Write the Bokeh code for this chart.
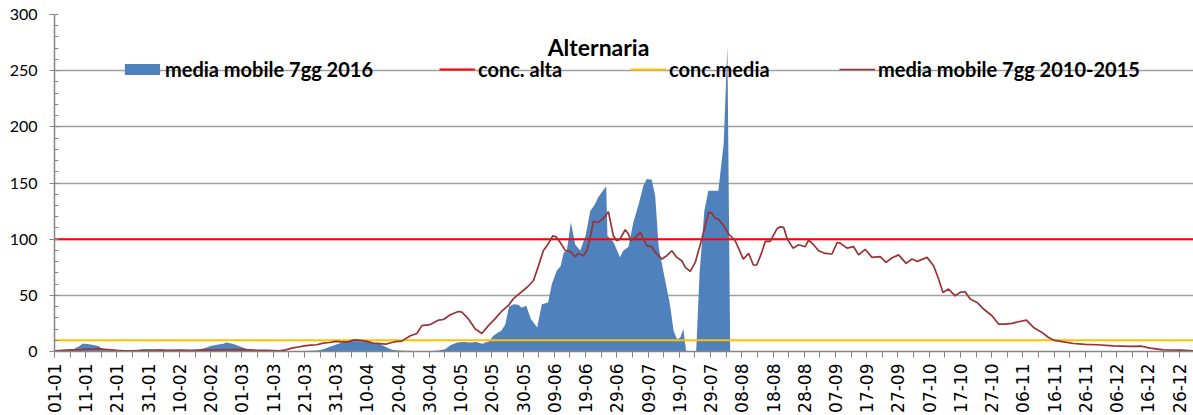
from bokeh.plotting import figure
from bokeh.models import (Range1d, FixedTicker, Legend, LegendItem, Label)
from bokeh.embed import file_html
from bokeh.resources import INLINE

# ---------------- data ----------------
# x = day of year 2016 (0 = 01-01)
tick_days = list(range(0, 361, 10))
tick_labels = ["01-01", "11-01", "21-01", "31-01", "10-02", "20-02", "01-03", "11-03",
               "21-03", "31-03", "10-04", "20-04", "30-04", "10-05", "20-05", "30-05",
               "09-06", "19-06", "29-06", "09-07", "19-07", "29-07", "08-08", "18-08",
               "28-08", "07-09", "17-09", "27-09", "07-10", "17-10", "27-10", "06-11",
               "16-11", "26-11", "06-12", "16-12", "26-12"]

days_2016 = [0, 3, 6, 8, 9, 10, 12, 14, 15, 16, 18, 22, 26, 28, 30, 32, 34, 36, 40, 44,
             46, 48, 50, 52, 54, 55, 57, 59, 61, 62, 65, 70, 75, 80, 84, 86, 88, 90, 92, 94,
             96, 98, 100, 102, 104, 106, 108, 110, 115, 120, 123, 125, 127, 129, 131, 133,
             135, 137, 138, 139, 140.5, 142, 143, 144.3, 145.5, 147, 148.5, 149.5, 151,
             152.5, 154.5, 156, 158, 159.2, 160.8, 162, 163, 164, 165.3, 166.7, 168.3, 170,
             171.5, 173, 174, 175.2, 176.6, 177, 179, 181, 182.1, 183.7, 185.3, 187, 188.5,
             189.6, 191.2, 192.3, 193.4, 194.3, 195.5, 197, 198.2, 199.3, 200.3, 201.3,
             202.2, 205.4, 206.5, 208, 209.3, 212.5, 214.2, 215.4, 216.3]
mm_2016 = [1, 1.5, 2, 5, 7, 7, 6, 5, 3, 1.5, 1, 0.5, 1, 2, 2, 1.5, 2, 1.5, 1, 1,
           1.5, 3, 5, 6, 7, 8, 7, 5, 3, 1.5, 1, 0.5, 0.5, 0.5, 1, 2, 4, 6, 8, 9.5,
           10.5, 10, 9, 7.5, 7, 4, 1.5, 1, 0.5, 0.5, 1, 2, 6, 8, 8.5, 8,
           8.5, 7, 8, 9, 14, 17, 18.5, 24, 40, 42, 41.6, 39, 40.7,
           29, 21.4, 42, 43.7, 60, 72, 76, 88, 90, 115, 95, 90, 103,
           125, 131, 137, 141.7, 147, 103, 97, 84, 90, 93, 115, 131, 147.6,
           153.6, 153, 138, 93, 80, 63, 42, 18, 11, 12.5, 20,
           0, 0, 70, 125, 143, 143, 185, 272, 0]

days_hist = [0, 3, 6, 8, 10, 12, 14, 16, 18, 20, 22, 24, 27, 30, 33, 36, 40, 44, 48, 52,
             56, 60, 64, 68, 72, 74, 76, 78, 80, 82, 84, 86, 88, 90, 92, 94, 96, 98, 100,
             102, 104, 106, 108, 109.6, 111, 113.9, 116, 117.6, 120.3, 123, 124.5, 126.7,
             129.3, 130.4, 132.5, 134.7, 136.8, 138.9, 141, 143.2, 145.3, 146.9, 149,
             151.2, 153.3, 154.9, 156.5, 158.1, 159.5, 160.6, 161.9, 163.5, 165.1, 166.7,
             167.7, 169.3, 170.4, 171.5, 172.5, 174.1, 175.5, 177.3, 178.9, 180, 181,
             182.7, 183.7, 184.5, 185.9, 187.5, 189.6, 191.2, 192.3, 194.4, 196, 197.6,
             199.2, 200.8, 201.9, 203.5, 205.1, 207.2, 209.4, 210.4, 211.5, 212.5, 214.2,
             215.8, 217.9, 220.5, 222.2, 223.7, 224.8, 226.4, 227.5, 229.1, 231.2, 232.3,
             233.4, 234.6, 236.4, 238.2, 240.3, 241.4, 243, 244.6, 246.7, 248.9, 250.5,
             251.5, 253.7, 255.8, 257.4, 259.5, 261.7, 264.3, 266.2, 268, 270.2, 272.6,
             274.5, 276.2, 279.3, 281.4, 283, 284.4, 286.2, 288.3, 289.9, 291.5, 293.1,
             295.3, 297.4, 300.1, 302.2, 304.4, 306.5, 308.6, 311.1, 313.4, 316.1, 318.2,
             319.8, 323, 326.2, 330, 333.7, 339, 344.4, 348, 350.7, 355, 360.4, 364.5]
mm_hist = [0.5, 1, 1.5, 1.5, 2, 2, 2.5, 2, 1.5, 1, 0.7, 0.5, 0.8, 1, 1.2, 1, 1.2, 1, 1.5, 1.2,
           1.5, 1.7, 1.2, 1, 0.6, 1.5, 3, 4, 5, 5.6, 6, 7.5, 8, 9, 8.5, 8.6, 10.4, 10, 9,
           7.5, 7, 6.5, 8, 9, 9, 14, 16, 23, 24, 28, 28.5, 32.7,
           35.6, 35, 29, 20, 16, 23, 29, 36, 41, 47, 52,
           57, 63, 76, 90, 96, 103, 102, 97, 90, 89, 84.4,
           87.3, 85.3, 89.7, 101.6, 115.8, 115, 118, 124.5, 103, 98.6, 100,
           108.4, 104.6, 98.6, 101.6, 106, 94, 93.3, 88.2, 82.3, 85.3, 89.7,
           83.8, 80.8, 74.9, 71.3, 79.3, 100, 123.9, 123, 118.5, 118, 112,
           104.6, 98.6, 82.3, 87.3, 77, 77, 88.2, 98, 98, 109, 111,
           110.5, 100, 92, 95, 93.3, 99.2, 95, 89.7, 87.3, 86.8, 97,
           96.5, 92, 93.3, 86, 91, 83.8, 84.4, 79.3, 83.2, 86, 78.4,
           82.3, 80.2, 83.8, 76.4, 64.5, 52.6, 55.6, 49.6, 52.6, 53.2, 46.7,
           43.7, 37.8, 31.8, 24.4, 24.4, 25, 26.5, 28, 21.4, 17, 12.5,
           10.2, 8.6, 7.1, 6.3, 6, 5, 4.5, 4.7, 3, 1.5, 1.2, 0.6]

conc_alta = 100
conc_media = 10
year_span = [0, 366]

y_ticks = list(range(0, 301, 50))
y_minor = list(range(0, 301, 10))
x_minor = list(range(0, 366, 5))

# ---------------- figure ----------------
p = figure(width=1193, height=415, output_backend="svg", toolbar_location=None,
           x_range=Range1d(0, 364.6), y_range=Range1d(0, 300),
           min_border_left=54, min_border_right=0, min_border_top=14, min_border_bottom=64,
           background_fill_color="white", border_fill_color="white")
p.outline_line_color = None

grid_col = "#a0a0a0"
axis_col = "#868686"

p.xgrid.grid_line_color = None
p.ygrid.grid_line_color = grid_col
p.ygrid.grid_line_width = 1.5

# y axis
p.yaxis.ticker = FixedTicker(ticks=y_ticks, minor_ticks=y_minor)
p.yaxis.axis_line_color = axis_col
p.yaxis.axis_line_width = 1.5
p.yaxis.major_tick_line_color = axis_col
p.yaxis.minor_tick_line_color = axis_col
p.yaxis.major_tick_in = 0
p.yaxis.major_tick_out = 5
p.yaxis.minor_tick_in = 4
p.yaxis.minor_tick_out = 0
p.yaxis.major_label_text_font = "Lato"
p.yaxis.major_label_text_font_size = "16px"
p.yaxis.major_label_text_color = "#000000"
p.yaxis.major_label_standoff = 12

# x axis
p.xaxis.ticker = FixedTicker(ticks=tick_days, minor_ticks=x_minor)
p.xaxis.major_label_overrides = {d: l for d, l in zip(tick_days, tick_labels)}
p.xaxis.major_label_orientation = 3.14159265 / 2
p.xaxis.axis_line_color = axis_col
p.xaxis.axis_line_width = 1.5
p.xaxis.major_tick_line_color = axis_col
p.xaxis.minor_tick_line_color = axis_col
p.xaxis.major_tick_in = 0
p.xaxis.major_tick_out = 6
p.xaxis.minor_tick_in = 0
p.xaxis.minor_tick_out = 6
p.xaxis.major_label_text_font = "DejaVu Sans"
p.xaxis.major_label_text_font_size = "17px"
p.xaxis.major_label_text_color = "#000000"
p.xaxis.major_label_standoff = 6

# series
r_area = p.varea(x=days_2016, y1=0, y2=mm_2016, fill_color="#4f81bd")
r_alta = p.line(x=year_span, y=[conc_alta, conc_alta], line_color="#ff0000", line_width=2)
r_media = p.line(x=year_span, y=[conc_media, conc_media], line_color="#ffc000", line_width=2)
r_hist = p.line(x=days_hist, y=mm_hist, line_color="#993333", line_width=1.7)

# legends (one per item to place them like the original)
def add_leg(label, rend, x, gw, standoff):
    leg = Legend(items=[LegendItem(label=label, renderers=[rend])],
                 location=(x, 270), orientation="horizontal",
                 glyph_width=gw, glyph_height=14, label_standoff=standoff,
                 padding=0, margin=0, spacing=0,
                 background_fill_alpha=0, border_line_color=None,
                 label_text_font="Lato", label_text_font_style="bold",
                 label_text_font_size="20px", label_text_color="#000000")
    p.add_layout(leg, "center")

add_leg("media mobile 7gg 2016", r_area, 66, 44, 1)
add_leg("conc. alta", r_alta, 385, 36, 3)
add_leg("conc.media", r_media, 576, 36, 3)
add_leg("media mobile 7gg 2010-2015", r_hist, 785, 36, 3)

title = Label(x=544, y=305, x_units="screen", y_units="screen", text="Alternaria",
              text_align="center", text_baseline="middle", text_font="Lato",
              text_font_style="bold", text_font_size="23px", text_color="#000000")
p.add_layout(title)

open("out.html", "w").write(file_html(p, INLINE))
